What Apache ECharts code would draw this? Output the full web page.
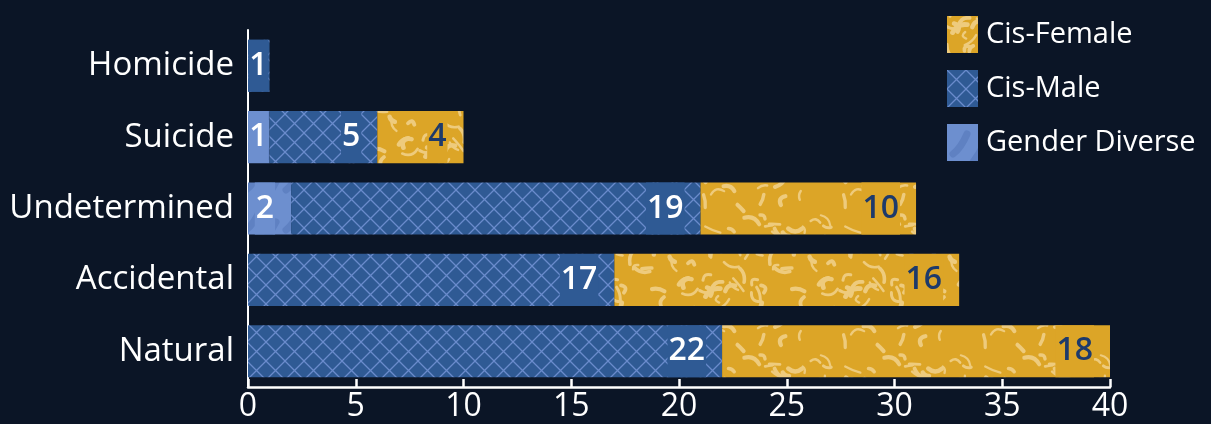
<!DOCTYPE html>
<html>
<head>
<meta charset="utf-8">
<script src="https://cdn.jsdelivr.net/npm/echarts@6/dist/echarts.min.js"></script>
<style>
html,body{margin:0;padding:0;background:#0b1526;}
#chart{width:1211px;height:424px;}
</style>
</head>
<body>
<div id="chart"></div>
<script>
const categories = ['Homicide', 'Suicide', 'Undetermined', 'Accidental', 'Natural'];
const genderDiverse = [0, 1, 2, 0, 0];
const cisMale = [1, 5, 19, 17, 22];
const cisFemale = [0, 4, 10, 16, 18];
const xTicks = [0, 5, 10, 15, 20, 25, 30, 35, 40];

function seeded(s){return function(){s=(s*1664525+1013904223)%4294967296;return s/4294967296;};}

function crossTile(){
  const c=document.createElement('canvas');c.width=19;c.height=19;
  const g=c.getContext('2d');
  g.fillStyle='#2f5a94';g.fillRect(0,0,19,19);
  g.strokeStyle='#6a8bcc';g.lineWidth=1.3;
  g.beginPath();g.moveTo(0,0);g.lineTo(19,19);g.moveTo(19,0);g.lineTo(0,19);g.stroke();
  return c;
}
function squiggleTile(){
  const S=140;
  const c=document.createElement('canvas');c.width=S;c.height=S;
  const g=c.getContext('2d');
  g.fillStyle='#dca527';g.fillRect(0,0,S,S);
  const r=seeded(23);
  g.strokeStyle='#eecb7d';g.lineCap='round';g.lineJoin='round';
  for(let i=0;i<70;i++){
    const x=r()*S,y=r()*S,a=r()*Math.PI*2,l=6+r()*11,w=2.2+r()*2.8;
    const ca=Math.cos(a),sa=Math.sin(a);
    const bend=(r()-0.5)*14;
    g.lineWidth=w;
    for(const dx of [-S,0,S]) for(const dy of [-S,0,S]){
      const X=x+dx,Y=y+dy;
      g.beginPath();
      g.moveTo(X,Y);
      g.quadraticCurveTo(X+ca*l/2-sa*bend,Y+sa*l/2+ca*bend,X+ca*l,Y+sa*l);
      g.stroke();
    }
  }
  return c;
}
function blobTile(){
  const c=document.createElement('canvas');c.width=40;c.height=40;
  const g=c.getContext('2d');
  g.fillStyle='#6d8fcf';g.fillRect(0,0,40,40);
  g.strokeStyle='#5f81c2';g.lineCap='round';g.lineWidth=7;
  g.beginPath();g.moveTo(6,30);g.quadraticCurveTo(14,24,20,10);g.stroke();
  g.beginPath();g.moveTo(26,38);g.quadraticCurveTo(32,30,36,22);g.stroke();
  return c;
}

const font = '"Open Sans", "Noto Sans", sans-serif';
function items(arr){
  return arr.map(v=>({value:v,label:v===0?{show:false}:{distance:v<=1?1:16}}));
}
function lab(color,bg){
  return {show:true,position:'insideRight',color:color,fontSize:32,fontWeight:600,fontFamily:font,
    backgroundColor:bg,padding:[10,1,10,1],
    formatter:p=>p.value?String(p.value):''};
}
const chart = echarts.init(document.getElementById('chart'));
chart.setOption({
  backgroundColor:'#0b1526',
  animation:false,
  grid:{left:248,right:101,top:30,bottom:37,containLabel:false},
  legend:{
    data:['Cis-Female','Cis-Male','Gender Diverse'],
    orient:'vertical',left:942,top:11,itemWidth:31,itemHeight:37,itemGap:17,
    icon:'rect',
    textStyle:{color:'#ffffff',fontSize:29,fontFamily:font,padding:[0,0,0,3]}
  },
  xAxis:{
    type:'value',min:0,max:40,interval:5,
    axisLine:{show:true,lineStyle:{color:'#ffffff',width:2.5}},
    axisTick:{show:true,inside:true,length:8,lineStyle:{color:'#ffffff',width:2.5}},
    splitLine:{show:false},
    axisLabel:{color:'#ffffff',fontSize:32,fontFamily:font,margin:4,
      formatter:v=>xTicks.indexOf(v)>=0?String(v):''}
  },
  yAxis:{
    type:'category',data:categories,inverse:true,
    axisLine:{show:true,lineStyle:{color:'#ffffff',width:2}},
    axisTick:{show:false},
    axisLabel:{color:'#ffffff',fontSize:33,fontFamily:font,margin:14,padding:[6,0,0,0]}
  },
  series:[
    {name:'Gender Diverse',type:'bar',stack:'a',data:items(genderDiverse),barCategoryGap:'27%',
      itemStyle:{color:{image:blobTile(),repeat:'repeat'}},label:lab('#ffffff','#6d8fcf')},
    {name:'Cis-Male',type:'bar',stack:'a',data:items(cisMale),
      itemStyle:{color:{image:crossTile(),repeat:'repeat'}},label:lab('#ffffff','#2f5a94')},
    {name:'Cis-Female',type:'bar',stack:'a',data:items(cisFemale),
      itemStyle:{color:{image:squiggleTile(),repeat:'repeat'}},label:lab('#1d3a6b','#dca527')}
  ]
});
</script>
</body>
</html>
